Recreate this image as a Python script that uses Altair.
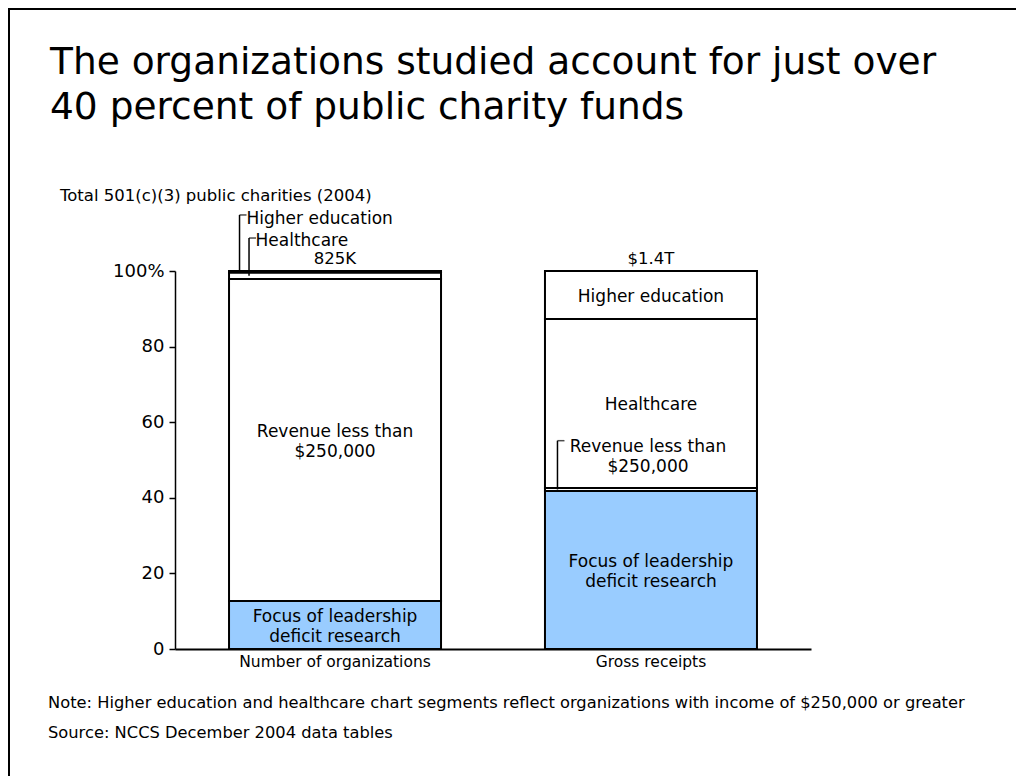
import altair as alt
import pandas as pd

# ---------------- data ----------------
categories = ["Number of organizations", "Gross receipts"]
segments = [
    "Focus of leadership deficit research",
    "Revenue less than $250,000",
    "Healthcare",
    "Higher education",
]
orgs_share = [12.7, 85.2, 1.7, 0.4]       # % of organizations
receipts_share = [41.8, 0.8, 44.7, 12.7]  # % of gross receipts
totals = ["825K", "$1.4T"]
segment_colors = ["#99CCFF", "#FFFFFF", "#FFFFFF", "#FFFFFF"]

title_lines = ["The organizations studied account for just over",
               "40 percent of public charity funds"]
subtitle = "Total 501(c)(3) public charities (2004)"
note_lines = [
    "Note: Higher education and healthcare chart segments reflect organizations with income of $250,000 or greater",
    "Source: NCCS December 2004 data tables",
]

# inside labels: (category index, segment index, text)
inside_labels = [
    (0, 1, "Revenue less than\n$250,000"),
    (0, 0, "Focus of leadership\ndeficit research"),
    (1, 3, "Higher education"),
    (1, 2, "Healthcare"),
    (1, 0, "Focus of leadership\ndeficit research"),
]
# callout labels: (category index, segment index, text)
callout_labels = [
    (0, 3, "Higher education"),
    (0, 2, "Healthcare"),
    (1, 1, "Revenue less than\n$250,000"),
]

FONT = "DejaVu Sans"
W, H = 1008, 768
LH = 20.5  # line height of in-bar labels

# ---------------- tables ----------------
rows = []
for ci, shares in enumerate([orgs_share, receipts_share]):
    start = 0.0
    for si, s in enumerate(shares):
        rows.append({"cat": categories[ci], "seg": segments[si],
                     "start": start, "end": start + s,
                     "mid": start + s / 2, "color": segment_colors[si]})
        start += s
bars_df = pd.DataFrame(rows)

def seg_mid(ci, si):
    r = bars_df[(bars_df.cat == categories[ci]) & (bars_df.seg == segments[si])].iloc[0]
    return float(r["mid"])

inside_df = pd.DataFrame([{"cat": categories[ci], "mid": seg_mid(ci, si), "text": t,
                           "lines": t.count("\n") + 1}
                          for ci, si, t in inside_labels])
totals_df = pd.DataFrame({"cat": categories, "top": [100, 100], "text": totals})

x_scale = alt.Scale(domain=categories, range=[167, 803],
                    paddingInner=0.329, paddingOuter=0.171)
y_scale = alt.Scale(domain=[0, 100], range=[641, 263])

X = alt.X("cat:N", scale=x_scale,
          axis=alt.Axis(title=None, ticks=False, labelAngle=0, labelPadding=5,
                        labelFontSize=15.5, labelFont=FONT, labelColor="black",
                        labelBaseline="top", labelLimit=0,
                        domainColor="black", domainWidth=2, offset=-127))
Yax = alt.Axis(title=None, values=[0, 20, 40, 60, 80, 100],
               labelExpr="datum.value == 100 ? '100%' : datum.label",
               grid=False, tickSize=6, tickColor="black", tickWidth=1.5,
               domainColor="black", domainWidth=1.5,
               labelFontSize=18, labelFont=FONT, labelColor="black",
               labelPadding=5, offset=-167)

def Y(field):
    return alt.Y(field, scale=y_scale, axis=Yax)

bars = alt.Chart(bars_df).mark_bar(stroke="black", strokeWidth=2).encode(
    x=X,
    y=Y("start:Q"),
    y2="end:Q",
    fill=alt.Fill("color:N", scale=None),
)

inside_layers = []
for n in sorted(inside_df["lines"].unique()):
    inside_layers.append(
        alt.Chart(inside_df[inside_df["lines"] == n]).mark_text(
            font=FONT, fontSize=17, color="black", baseline="middle", lineBreak="\n",
            lineHeight=LH, dy=-(int(n) - 1) * LH / 2 + 2
        ).encode(x=X, y=Y("mid:Q"), text="text:N"))

tot = alt.Chart(totals_df).mark_text(
    font=FONT, fontSize=16.5, color="black", baseline="alphabetic", dy=-7
).encode(x=X, y=Y("top:Q"), text="text:N")

# callout geometry (pixel offsets from band centre / segment middle)
callout_style = [
    # line x offset, corner y offset, text dx, text dy, align
    (-95.5, -56.8, -88.5, -52.8, "left"),
    (-86.0, -37.7, -79.5, -34.7, "left"),
    (-93.5, -48.8, -3.0, -42.0, "center"),
]
callout_layers = []
for (ci, si, t), (lx, cy, tdx, tdy, al) in zip(callout_labels, callout_style):
    d = pd.DataFrame([{"cat": categories[ci], "mid": seg_mid(ci, si), "text": t}])
    base = alt.Chart(d)
    callout_layers.append(
        base.mark_rule(color="black", strokeWidth=1.5, xOffset=lx, y2Offset=cy).encode(
            x=X, y=Y("mid:Q"), y2="mid:Q"))
    callout_layers.append(
        base.mark_tick(color="black", orient="horizontal", size=7, thickness=1.5,
                       xOffset=lx + 3.5, yOffset=cy).encode(
            x=X, y=Y("mid:Q")))
    callout_layers.append(
        base.mark_text(font=FONT, fontSize=17, color="black", align=al, baseline="middle",
                       lineBreak="\n", lineHeight=20, dx=tdx, dy=tdy).encode(
            x=X, y=Y("mid:Q"), text="text:N"))

one = alt.Data(values=[{}])

title = alt.Chart(one).mark_text(
    font=FONT, fontSize=37.5, color="black", align="left", baseline="alphabetic",
    lineHeight=45
).encode(x=alt.value(42), y=alt.value(66), text=alt.value(title_lines))

sub = alt.Chart(one).mark_text(
    font=FONT, fontSize=16.5, color="black", align="left", baseline="alphabetic"
).encode(x=alt.value(52), y=alt.value(193), text=alt.value(subtitle))

notes = alt.Chart(one).mark_text(
    font=FONT, fontSize=16.3, color="black", align="left", baseline="alphabetic",
    lineHeight=30
).encode(x=alt.value(40), y=alt.value(700), text=alt.value(note_lines))

border_left = alt.Chart(one).mark_rule(color="black", strokeWidth=2).encode(
    x=alt.value(1), y=alt.value(0), y2=alt.value(H))
border_top = alt.Chart(one).mark_rule(color="black", strokeWidth=2).encode(
    y=alt.value(1), x=alt.value(0), x2=alt.value(W))

chart = alt.layer(
    bars, *inside_layers, tot, *callout_layers, title, sub, notes, border_left, border_top
).properties(
    width=W, height=H, autosize=alt.AutoSizeParams(type="none"), padding=0,
    background="white"
).configure_view(strokeWidth=0)

chart.save("out.html", embed_options={"renderer": "svg", "actions": False})
